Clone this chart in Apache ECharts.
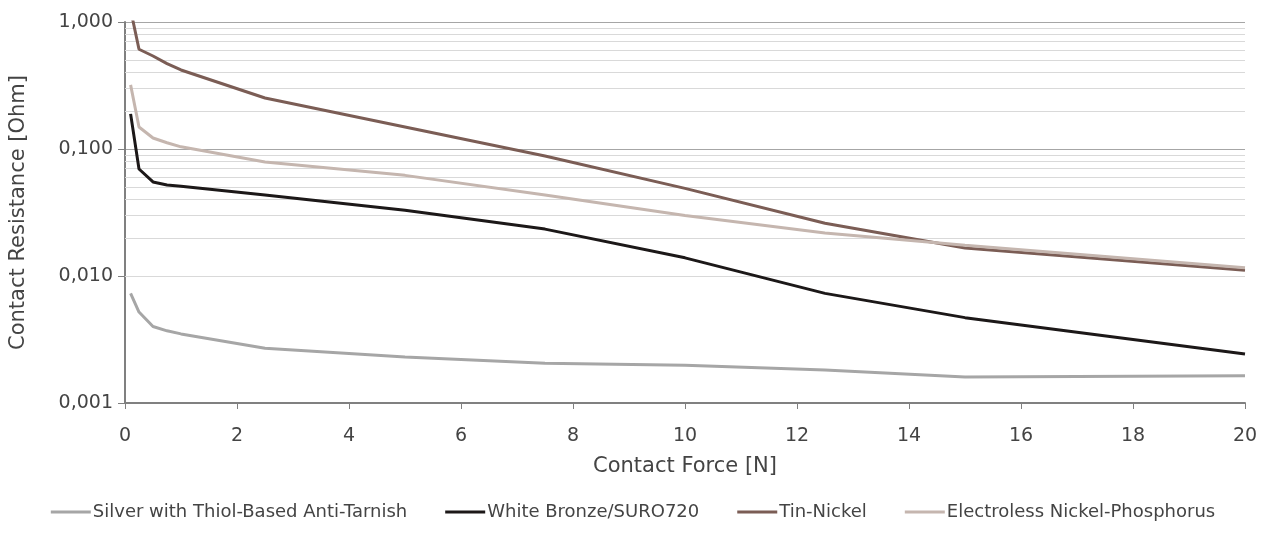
<!DOCTYPE html>
<html><head><meta charset="utf-8">
<script src="https://cdn.jsdelivr.net/npm/echarts@6/dist/echarts.min.js"></script>
<style>html,body{margin:0;padding:0;background:#fff}#c{width:1266px;height:541px}</style>
</head><body><div id="c"></div>
<script>
const forces = [0.1, 0.25, 0.5, 0.75, 1, 2.5, 5, 7.5, 10, 12.5, 15, 20];
const silver = [0.0073, 0.0052, 0.0040, 0.0037, 0.0035, 0.0027, 0.0023, 0.00206, 0.00198, 0.00182, 0.0016, 0.00164];
const whiteBronze = [0.189, 0.0696, 0.055, 0.052, 0.051, 0.0435, 0.033, 0.0234, 0.0139, 0.0073, 0.0047, 0.00243];
const tinNickel = [1.25, 0.61, 0.54, 0.47, 0.419, 0.252, 0.149, 0.088, 0.049, 0.026, 0.0166, 0.0111];
const electroless = [0.32, 0.149, 0.122, 0.112, 0.104, 0.079, 0.062, 0.0435, 0.030, 0.0218, 0.0175, 0.0116];
const names = ['Silver with Thiol-Based Anti-Tarnish', 'White Bronze/SURO720', 'Tin-Nickel', 'Electroless Nickel-Phosphorus'];
const colors = ['#a6a6a6', '#1c1818', '#7b5d55', '#c5b6af'];
const minorValues = [];
[0.001, 0.01, 0.1].forEach(d => { for (let k = 2; k <= 9; k++) minorValues.push(+(d * k).toFixed(4)); });

const font = '"DejaVu Sans", sans-serif';
const txt = '#444444';
const seriesData = [silver, whiteBronze, tinNickel, electroless];
const series = seriesData.map((vals, i) => ({
  name: names[i], type: 'line', showSymbol: false, symbol: 'none',
  data: forces.map((f, j) => [f, vals[j]]),
  lineStyle: { width: 3, color: colors[i] }, itemStyle: { color: colors[i] },
  z: 5, clip: true
}));
series.push({
  name: 'minor', type: 'line', data: [], silent: true,
  markLine: { silent: true, symbol: 'none', label: { show: false },
    lineStyle: { color: '#d9d9d9', width: 1, type: 'solid' },
    data: minorValues.map(v => ({ yAxis: v })), z: 1 }
});

const chart = echarts.init(document.getElementById('c'));
chart.setOption({
  animation: false,
  grid: { left: 124, right: 21, top: 22, bottom: 138 },
  xAxis: {
    type: 'value', min: 0, max: 20, interval: 2,
    name: 'Contact Force [N]', nameLocation: 'middle', nameGap: 53,
    nameTextStyle: { fontFamily: font, fontSize: 21, color: txt },
    axisLine: { lineStyle: { color: '#808080', width: 2 } },
    axisTick: { show: true, length: 6, lineStyle: { color: '#808080' } },
    axisLabel: { fontFamily: font, fontSize: 19, color: txt, margin: 24 },
    splitLine: { show: false }
  },
  yAxis: {
    type: 'log', logBase: 10, min: 0.001, max: 1,
    name: 'Contact Resistance [Ohm]', nameLocation: 'middle', nameGap: 96,
    nameTextStyle: { fontFamily: font, fontSize: 21, color: txt },
    axisLine: { show: true, lineStyle: { color: '#808080', width: 2 } },
    axisTick: { show: true, length: 7, lineStyle: { color: '#808080' } },
    axisLabel: { fontFamily: font, fontSize: 19, color: txt, margin: 12,
      formatter: v => v.toFixed(3).replace('.', ',') },
    splitLine: { show: true, lineStyle: { color: '#a6a6a6', width: 1 } }
  },
  legend: {
    data: names, top: 498, left: 'center', itemWidth: 40, itemHeight: 3, itemGap: 38,
    icon: 'rect',
    textStyle: { fontFamily: font, fontSize: 18, color: txt, padding: [0, 0, 0, -3] }
  },
  series: series
});
</script></body></html>
